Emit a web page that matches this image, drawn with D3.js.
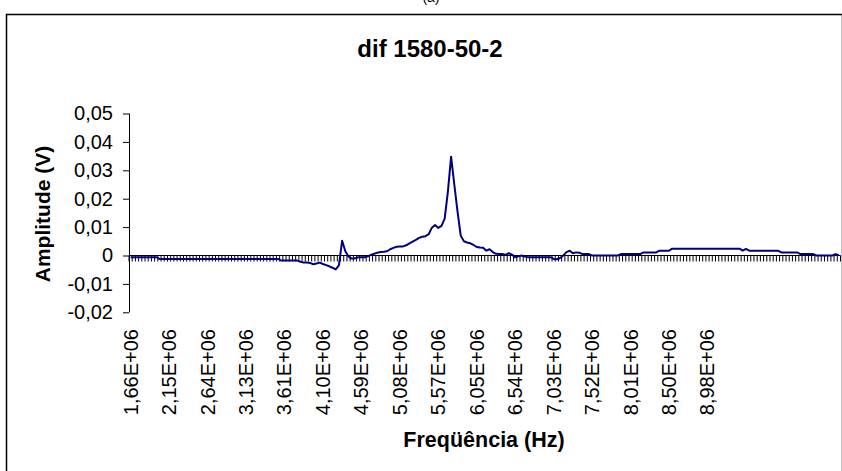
<!DOCTYPE html>
<html>
<head>
<meta charset="utf-8">
<script src="https://cdn.jsdelivr.net/npm/d3@7/dist/d3.min.js"></script>
<style>
  html, body { margin: 0; padding: 0; background: #fff; }
  svg { display: block; }
  text { font-family: "Liberation Sans", Arial, sans-serif; fill: #000; }
</style>
</head>
<body>
<svg id="chart" width="842" height="471"></svg>
<script>
// ---- data ----
const title = "dif 1580-50-2";
const panelLabel = "(a)";
const xTitle = "Freqüência (Hz)";
const yTitle = "Amplitude (V)";

// x tick labels (one label every 12 categories)
const xTickLabels = ["1,66E+06","2,15E+06","2,64E+06","3,13E+06","3,61E+06","4,10E+06",
  "4,59E+06","5,08E+06","5,57E+06","6,05E+06","6,54E+06","7,03E+06","7,52E+06",
  "8,01E+06","8,50E+06","8,98E+06"];
const labelStep = 12;

const yTicks = [-0.02, -0.01, 0, 0.01, 0.02, 0.03, 0.04, 0.05];

// amplitude (V) per frequency category
const amplitude = [
  -0.0006,-0.0006,-0.0006,-0.0006,-0.0006,-0.0006,-0.0006,-0.0006,-0.0006,-0.0012,-0.0012,-0.0012,
  -0.0012,-0.0012,-0.0012,-0.0012,-0.0012,-0.0012,-0.0012,-0.0012,-0.0012,-0.0012,-0.0012,-0.0012,
  -0.0012,-0.0012,-0.0012,-0.0012,-0.0012,-0.0012,-0.0012,-0.0012,-0.0012,-0.0012,-0.0012,-0.0012,
  -0.0012,-0.0012,-0.0012,-0.0012,-0.0012,-0.0012,-0.0012,-0.0012,-0.0012,-0.0012,-0.0012,-0.0018,
  -0.0018,-0.0018,-0.0018,-0.0018,-0.0018,-0.0022,-0.0025,-0.0025,-0.0026,-0.0031,-0.0028,-0.0025,
  -0.0030,-0.0034,-0.0038,-0.0043,-0.0049,-0.0035,0.0052,0.0015,-0.0004,-0.0011,-0.0010,-0.0006,
  -0.0006,-0.0006,-0.0003,0.0002,0.0006,0.0010,0.0012,0.0013,0.0015,0.0022,0.0027,0.0031,
  0.0032,0.0032,0.0036,0.0043,0.0049,0.0055,0.0062,0.0066,0.0068,0.0075,0.0098,0.0107,
  0.0097,0.0104,0.0130,0.0225,0.0348,0.0250,0.0155,0.0070,0.0050,0.0046,0.0043,0.0037,
  0.0030,0.0028,0.0027,0.0017,0.0022,0.0012,0.0006,0.0005,0.0005,0.0002,0.0008,0.0003,
  -0.0006,-0.0003,0.0000,-0.0004,-0.0006,-0.0006,-0.0006,-0.0006,-0.0006,-0.0006,-0.0006,-0.0006,
  -0.0012,-0.0013,-0.0009,0.0000,0.0012,0.0017,0.0008,0.0011,0.0010,0.0005,0.0005,0.0005,
  0.0000,0.0000,0.0000,0.0000,0.0000,0.0000,0.0000,0.0000,0.0000,0.0005,0.0005,0.0005,
  0.0005,0.0005,0.0005,0.0005,0.0011,0.0011,0.0011,0.0011,0.0011,0.0017,0.0017,0.0017,
  0.0017,0.0024,0.0024,0.0024,0.0024,0.0024,0.0024,0.0024,0.0024,0.0024,0.0024,0.0024,
  0.0024,0.0024,0.0024,0.0024,0.0024,0.0024,0.0024,0.0024,0.0024,0.0024,0.0024,0.0017,
  0.0023,0.0017,0.0017,0.0017,0.0017,0.0017,0.0017,0.0017,0.0017,0.0017,0.0017,0.0011,
  0.0011,0.0011,0.0011,0.0011,0.0011,0.0005,0.0005,0.0005,0.0005,0.0005,0.0000,0.0000,
  0.0000,0.0000,0.0000,0.0000,0.0005,0.0001
];

// ---- layout ----
const svg = d3.select("#chart");
const plot = { left: 129, right: 840.5, top: 113.5, bottom: 312.3 };
const font = '"Liberation Sans", Arial, sans-serif';

svg.append("rect").attr("width", 842).attr("height", 471).attr("fill", "#fff");

// outer chart frame
svg.append("rect")
  .attr("x", 6.5).attr("y", 14.5).attr("width", 836).attr("height", 480)
  .attr("fill", "none").attr("stroke", "#000").attr("stroke-width", 1.5);

// panel label (cut off at top)
svg.append("text").attr("x", 431).attr("y", 2)
  .attr("text-anchor", "middle").style("font-size", "14px").text(panelLabel);

// title
svg.append("text").attr("x", 430).attr("y", 57)
  .attr("text-anchor", "middle").style("font-size", "24px").style("font-weight", "bold")
  .text(title);

// scales
const idx = d3.range(amplitude.length);
const x = d3.scaleBand().domain(idx).range([plot.left, plot.right]).padding(0);
const bw = x.bandwidth();
const y = d3.scaleLinear().domain([-0.02, 0.05]).range([plot.bottom, plot.top]);

const fmtY = v => v === 0 ? "0" : d3.format(".2f")(v).replace(".", ",").replace("−", "-");

// y axis
const yAxis = svg.append("g")
  .attr("transform", `translate(${plot.left},0)`)
  .call(d3.axisLeft(y).tickValues(yTicks).tickSize(6).tickPadding(10).tickFormat(fmtY));
yAxis.select(".domain").attr("stroke", "#000").attr("d", `M0.5,${y(0.05)}V${y(-0.02)}`);
yAxis.selectAll(".tick line").attr("stroke", "#000");
yAxis.selectAll("text").style("font-family", font).style("font-size", "20px").attr("fill", "#000");

// x axis line at zero
const y0 = y(0);
svg.append("line")
  .attr("x1", plot.left).attr("x2", plot.right)
  .attr("y1", y0).attr("y2", y0)
  .attr("stroke", "#000").attr("stroke-width", 1);

// category boundary tick marks
const bounds = idx.map(i => x(i)).concat([x(idx[idx.length - 1]) + bw]);
svg.append("g").selectAll("line").data(bounds).join("line")
  .attr("x1", d => d).attr("x2", d => d)
  .attr("y1", y0).attr("y2", y0 + 6)
  .attr("stroke", "#000").attr("stroke-width", 1);

// x tick labels (rotated) through an axis generator
const labelIdx = xTickLabels.map((_, j) => j * labelStep);
const xLab = svg.append("g")
  .attr("transform", `translate(0,329)`)
  .call(d3.axisBottom(x).tickValues(labelIdx).tickSize(0)
    .tickFormat(d => xTickLabels[d / labelStep]));
xLab.select(".domain").remove();
xLab.selectAll("text")
  .attr("transform", "rotate(-90)")
  .attr("x", 0).attr("y", 0).attr("dy", "0.35em")
  .attr("text-anchor", "end")
  .style("font-family", font).style("font-size", "20px").attr("fill", "#000");

// series line
const line = d3.line()
  .x((d, i) => x(i) + bw / 2)
  .y(d => y(d));
svg.append("path").datum(amplitude)
  .attr("d", line)
  .attr("fill", "none").attr("stroke", "#000080").attr("stroke-width", 2)
  .attr("stroke-linejoin", "round");

// axis titles
svg.append("text")
  .attr("transform", "translate(50,214) rotate(-90)")
  .attr("text-anchor", "middle").style("font-size", "21px").style("font-weight", "bold")
  .text(yTitle);

svg.append("text").attr("x", 484).attr("y", 447)
  .attr("text-anchor", "middle").style("font-size", "21.5px").style("font-weight", "bold")
  .text(xTitle);
</script>
</body>
</html>
